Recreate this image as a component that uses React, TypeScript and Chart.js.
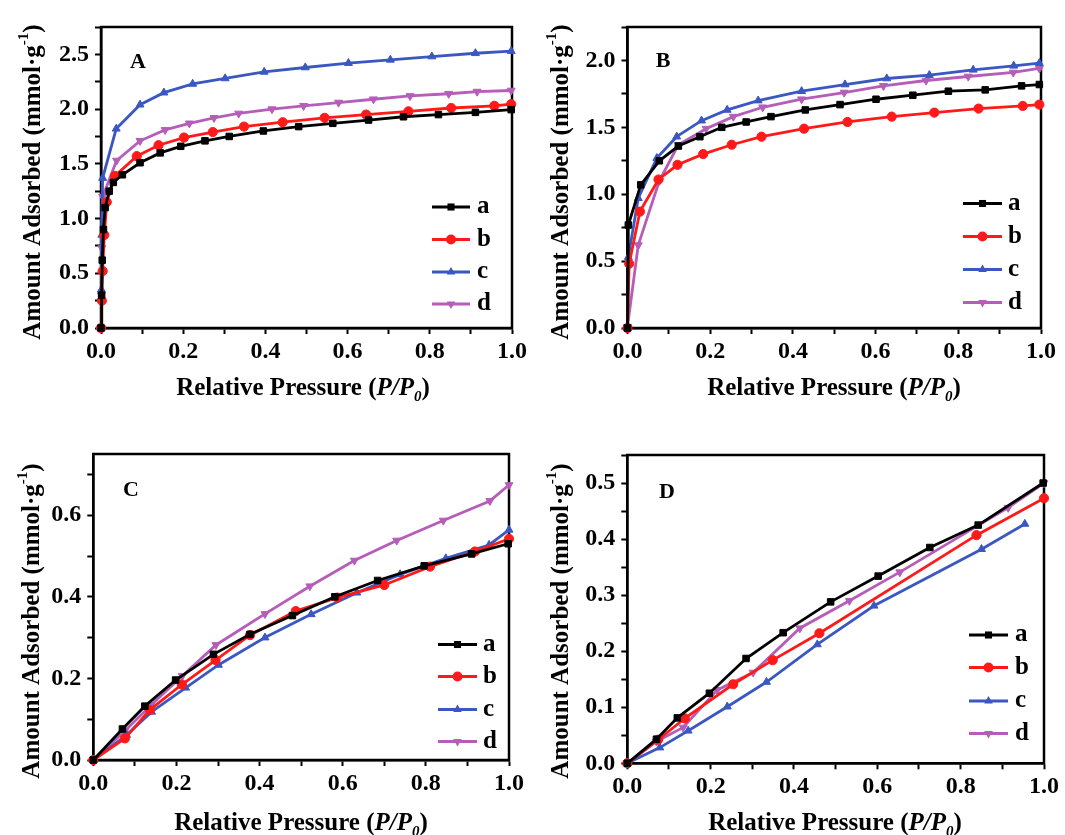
import React, { useEffect, useRef } from 'react';
import { Chart, registerables } from 'chart.js';

Chart.register(...registerables);

type Pt = [number, number];

// ---------- Data (x = P/P0, y = amount adsorbed, mmol/g) ----------
// Panel A
const A_a: Pt[] = [[0, 0], [0.0015, 0.3], [0.003, 0.62], [0.006, 0.9], [0.01, 1.1], [0.02, 1.25], [0.03, 1.33], [0.052, 1.4], [0.095, 1.51], [0.144, 1.6], [0.194, 1.66], [0.253, 1.71], [0.312, 1.75], [0.395, 1.8], [0.481, 1.84], [0.564, 1.87], [0.651, 1.9], [0.736, 1.93], [0.821, 1.95], [0.911, 1.97], [0.998, 1.995]];
const A_b: Pt[] = [[0, 0], [0.002, 0.25], [0.004, 0.52], [0.008, 0.85], [0.014, 1.15], [0.034, 1.39], [0.087, 1.57], [0.14, 1.67], [0.202, 1.74], [0.272, 1.79], [0.348, 1.84], [0.442, 1.88], [0.544, 1.92], [0.645, 1.95], [0.748, 1.98], [0.852, 2.01], [0.957, 2.03], [0.998, 2.045]];
const A_c: Pt[] = [[0, 0], [0.001, 0.35], [0.002, 0.85], [0.004, 1.37], [0.037, 1.82], [0.095, 2.04], [0.153, 2.15], [0.223, 2.23], [0.302, 2.28], [0.397, 2.34], [0.497, 2.38], [0.602, 2.42], [0.704, 2.45], [0.805, 2.48], [0.911, 2.51], [0.998, 2.53]];
const A_d: Pt[] = [[0, 0], [0.001, 0.3], [0.002, 0.73], [0.004, 1.2], [0.038, 1.53], [0.095, 1.71], [0.156, 1.81], [0.215, 1.87], [0.275, 1.92], [0.335, 1.96], [0.416, 2.0], [0.493, 2.03], [0.578, 2.06], [0.663, 2.09], [0.752, 2.12], [0.846, 2.14], [0.915, 2.16], [0.998, 2.17]];

// Panel B
const B_a: Pt[] = [[0, 0], [0.002, 0.77], [0.032, 1.07], [0.077, 1.25], [0.123, 1.36], [0.175, 1.43], [0.228, 1.5], [0.287, 1.54], [0.347, 1.58], [0.43, 1.63], [0.514, 1.67], [0.601, 1.71], [0.69, 1.74], [0.776, 1.77], [0.865, 1.78], [0.953, 1.81], [0.996, 1.82]];
const B_b: Pt[] = [[0, 0], [0.004, 0.48], [0.03, 0.87], [0.075, 1.11], [0.121, 1.22], [0.183, 1.3], [0.252, 1.37], [0.324, 1.43], [0.427, 1.49], [0.532, 1.54], [0.639, 1.58], [0.742, 1.61], [0.849, 1.64], [0.956, 1.66], [0.996, 1.67]];
const B_c: Pt[] = [[0, 0], [0.002, 0.53], [0.026, 0.97], [0.071, 1.27], [0.119, 1.43], [0.179, 1.55], [0.241, 1.63], [0.316, 1.7], [0.421, 1.77], [0.526, 1.82], [0.627, 1.865], [0.73, 1.89], [0.836, 1.93], [0.934, 1.96], [0.996, 1.98]];
const B_d: Pt[] = [[0, 0.01], [0.026, 0.62], [0.077, 1.1], [0.123, 1.37], [0.19, 1.49], [0.256, 1.58], [0.327, 1.65], [0.421, 1.71], [0.524, 1.76], [0.619, 1.81], [0.722, 1.85], [0.824, 1.88], [0.933, 1.91], [0.996, 1.94]];

// Panel C
const C_a: Pt[] = [[0, 0], [0.07, 0.076], [0.124, 0.132], [0.198, 0.196], [0.289, 0.259], [0.377, 0.308], [0.479, 0.354], [0.581, 0.4], [0.684, 0.44], [0.796, 0.476], [0.91, 0.505], [0.998, 0.53]];
const C_b: Pt[] = [[0, 0], [0.076, 0.053], [0.136, 0.123], [0.213, 0.185], [0.294, 0.245], [0.377, 0.306], [0.487, 0.365], [0.587, 0.398], [0.7, 0.429], [0.81, 0.474], [0.918, 0.511], [1.0, 0.542]];
const C_c: Pt[] = [[0, 0], [0.08, 0.061], [0.14, 0.118], [0.222, 0.177], [0.301, 0.233], [0.413, 0.3], [0.524, 0.357], [0.634, 0.41], [0.738, 0.455], [0.848, 0.494], [0.952, 0.527], [1.0, 0.564]];
const C_d: Pt[] = [[0, 0], [0.076, 0.071], [0.139, 0.135], [0.214, 0.206], [0.295, 0.282], [0.413, 0.358], [0.521, 0.426], [0.628, 0.489], [0.73, 0.538], [0.842, 0.587], [0.954, 0.635], [1.0, 0.674]];

// Panel D
const D_a: Pt[] = [[0, 0], [0.07, 0.043], [0.12, 0.081], [0.197, 0.125], [0.285, 0.187], [0.374, 0.233], [0.488, 0.288], [0.602, 0.334], [0.726, 0.385], [0.842, 0.425], [0.998, 0.5]];
const D_b: Pt[] = [[0, 0], [0.074, 0.042], [0.138, 0.08], [0.254, 0.141], [0.349, 0.184], [0.461, 0.232], [0.838, 0.407], [1.0, 0.473]];
const D_c: Pt[] = [[0, 0], [0.078, 0.028], [0.146, 0.058], [0.24, 0.101], [0.334, 0.145], [0.456, 0.212], [0.592, 0.281], [0.85, 0.382], [0.954, 0.427]];
const D_d: Pt[] = [[0, 0], [0.07, 0.039], [0.134, 0.064], [0.216, 0.131], [0.302, 0.162], [0.414, 0.241], [0.533, 0.29], [0.654, 0.341], [0.914, 0.456], [1.0, 0.5]];

const SERIES_LABELS = ['a', 'b', 'c', 'd'];
const SERIES_COLORS = ['#000000', '#ff1a1a', '#3a57c2', '#b65cb9'];
const POINT_STYLES = ['rect', 'circle', 'triangle', 'triangle'];
const POINT_ROTATIONS = [0, 0, 0, 180];

const PANEL_LETTERS = ['A', 'B', 'C', 'D'];
const Y_MAX = [2.75, 2.25, 0.75, 0.55];
const Y_STEP = [0.25, 0.25, 0.1, 0.05];
const Y_LABEL_STEP = [0.5, 0.5, 0.2, 0.1];
const X_STEP = 0.1;
const X_LABEL_STEP = 0.2;

const Y_TITLE_MAIN = 'Amount Adsorbed (mmol·g';
const Y_TITLE_SUP = '-1';
const X_TITLE_MAIN = 'Relative Pressure (';
const X_TITLE_ITALIC = 'P/P';
const X_TITLE_SUB = '0';

const PANEL_DATA: Pt[][][] = [
  [A_a, A_b, A_c, A_d],
  [B_a, B_b, B_c, B_d],
  [C_a, C_b, C_c, C_d],
  [D_a, D_b, D_c, D_d],
];

// ---------- Layout (pixels, styling only) ----------
const FONT = '"Liberation Serif", "Times New Roman", serif';

interface Layout {
  left: number; top: number; w: number; h: number;
  area: { left: number; top: number; right: number; bottom: number };
  letter: [number, number];
  legend: { x1: number; x2: number; tx: number; ys: number[] };
  yTitle: { x: number; cy: number };
  xTitle: { cx: number; y: number };
}

const LAYOUTS: Layout[] = [
  {
    left: 0, top: 0, w: 532, h: 415,
    area: { left: 101, top: 27, right: 512, bottom: 328 },
    letter: [138, 62],
    legend: { x1: 432, x2: 470, tx: 477, ys: [207, 239.5, 272, 304] },
    yTitle: { x: 39.5, cy: 182 },
    xTitle: { cx: 303, y: 395 },
  },
  {
    left: 532, top: 0, w: 533, h: 415,
    area: { left: 95.5, top: 27, right: 509, bottom: 328 },
    letter: [131, 61],
    legend: { x1: 431, x2: 470, tx: 476, ys: [203.5, 236.5, 269.5, 302.5] },
    yTitle: { x: 36, cy: 182 },
    xTitle: { cx: 302, y: 395 },
  },
  {
    left: 0, top: 415, w: 532, h: 420,
    area: { left: 93.3, top: 39, right: 509, bottom: 345 },
    letter: [131, 75],
    legend: { x1: 438, x2: 477, tx: 483, ys: [229.5, 261.5, 294.5, 326.5] },
    yTitle: { x: 39, cy: 206 },
    xTitle: { cx: 301, y: 415 },
  },
  {
    left: 532, top: 415, w: 533, h: 420,
    area: { left: 95.3, top: 40, right: 512, bottom: 348.3 },
    letter: [135, 77],
    legend: { x1: 437, x2: 476, tx: 483, ys: [220, 252.5, 286, 318.5] },
    yTitle: { x: 36, cy: 206 },
    xTitle: { cx: 303, y: 415 },
  },
];

function isMultiple(v: number, step: number) {
  const r = v / step;
  return Math.abs(r - Math.round(r)) < 1e-6;
}

function drawMarker(ctx: CanvasRenderingContext2D, style: string, rot: number, x: number, y: number, r: number, color: string) {
  ctx.save();
  ctx.fillStyle = color;
  ctx.strokeStyle = color;
  ctx.beginPath();
  if (style === 'rect') {
    const s = r * Math.SQRT1_2;
    ctx.rect(x - s, y - s, 2 * s, 2 * s);
  } else if (style === 'circle') {
    ctx.arc(x, y, r, 0, Math.PI * 2);
  } else {
    const dir = rot === 180 ? -1 : 1;
    const side = (3 * r) / Math.sqrt(3);
    const height = (side * Math.sqrt(3)) / 2;
    ctx.moveTo(x, y - dir * (2 * height) / 3);
    ctx.lineTo(x - side / 2, y + dir * height / 3);
    ctx.lineTo(x + side / 2, y + dir * height / 3);
    ctx.closePath();
  }
  ctx.fill();
  ctx.restore();
}

interface Seg { t: string; size: number; italic?: boolean; dy?: number }

function drawRich(ctx: CanvasRenderingContext2D, segs: Seg[], cx: number, baseY: number) {
  const fontOf = (s: Seg) => `${s.italic ? 'italic ' : ''}bold ${s.size}px ${FONT}`;
  let total = 0;
  const widths = segs.map((s) => {
    ctx.font = fontOf(s);
    const w = ctx.measureText(s.t).width;
    total += w;
    return w;
  });
  let x = cx - total / 2;
  ctx.textAlign = 'left';
  ctx.textBaseline = 'alphabetic';
  ctx.fillStyle = '#000';
  segs.forEach((s, i) => {
    ctx.font = fontOf(s);
    ctx.fillText(s.t, x, baseY + (s.dy || 0));
    x += widths[i];
  });
}

function makeDecoPlugin(idx: number) {
  const L = LAYOUTS[idx];
  return {
    id: 'panelDeco' + idx,
    beforeDatasetsDraw(chart: any) {
      const { ctx, chartArea } = chart;
      ctx.save();
      ctx.strokeStyle = '#000';
      ctx.lineWidth = 2.5;
      ctx.strokeRect(chartArea.left, chartArea.top, chartArea.right - chartArea.left, chartArea.bottom - chartArea.top);
      ctx.restore();
    },
    afterDraw(chart: any) {
      const ctx: CanvasRenderingContext2D = chart.ctx;
      ctx.save();
      // panel letter
      ctx.font = `bold 22px ${FONT}`;
      ctx.fillStyle = '#000';
      ctx.textAlign = 'center';
      ctx.textBaseline = 'middle';
      ctx.fillText(PANEL_LETTERS[idx], L.letter[0], L.letter[1]);
      // legend
      SERIES_LABELS.forEach((lab, i) => {
        const y = L.legend.ys[i];
        ctx.strokeStyle = SERIES_COLORS[i];
        ctx.lineWidth = 3;
        ctx.beginPath();
        ctx.moveTo(L.legend.x1, y);
        ctx.lineTo(L.legend.x2, y);
        ctx.stroke();
        drawMarker(ctx, POINT_STYLES[i], POINT_ROTATIONS[i], (L.legend.x1 + L.legend.x2) / 2, y, 5, SERIES_COLORS[i]);
        ctx.font = `bold 25px ${FONT}`;
        ctx.fillStyle = '#000';
        ctx.textAlign = 'left';
        ctx.textBaseline = 'alphabetic';
        ctx.fillText(lab, L.legend.tx, y + 6);
      });
      // x title
      drawRich(ctx, [
        { t: X_TITLE_MAIN, size: 25 },
        { t: X_TITLE_ITALIC, size: 25, italic: true },
        { t: X_TITLE_SUB, size: 15, italic: true, dy: 6 },
        { t: ')', size: 25 },
      ], L.xTitle.cx, L.xTitle.y);
      // y title (rotated)
      ctx.save();
      ctx.translate(L.yTitle.x, L.yTitle.cy);
      ctx.rotate(-Math.PI / 2);
      drawRich(ctx, [
        { t: Y_TITLE_MAIN, size: 25 },
        { t: Y_TITLE_SUP, size: 15, dy: -12 },
        { t: ')', size: 25 },
      ], 0, 0);
      ctx.restore();
      ctx.restore();
    },
  };
}

function Panel({ idx }: { idx: number }) {
  const ref = useRef<HTMLCanvasElement | null>(null);
  const L = LAYOUTS[idx];
  useEffect(() => {
    if (!ref.current) return;
    const tickFont = { family: FONT, size: 24, weight: 'bold' as const };
    const datasets = PANEL_DATA[idx].map((series, i) => ({
      label: SERIES_LABELS[i],
      data: series.map(([x, y]) => ({ x, y })),
      borderColor: SERIES_COLORS[i],
      backgroundColor: SERIES_COLORS[i],
      borderWidth: 2.8,
      pointStyle: POINT_STYLES[i] as any,
      pointRotation: POINT_ROTATIONS[i],
      pointRadius: 4.6,
      pointBorderWidth: 1,
      tension: 0,
      clip: false as any,
    }));
    const chart = new Chart(ref.current, {
      type: 'line',
      data: { datasets },
      options: {
        animation: false,
        responsive: false,
        maintainAspectRatio: false,
        devicePixelRatio: 1,
        layout: { padding: { top: L.area.top, right: L.w - L.area.right, left: 0, bottom: 0 } },
        plugins: { legend: { display: false }, tooltip: { enabled: false } },
        scales: {
          x: {
            type: 'linear',
            min: 0,
            max: 1,
            afterFit: (s: any) => { s.height = L.h - L.area.bottom; },
            ticks: {
              stepSize: X_STEP,
              autoSkip: false,
              maxRotation: 0,
              minRotation: 0,
              includeBounds: false,
              padding: 3,
              color: '#000',
              font: tickFont,
              callback: (v: any) => (isMultiple(Number(v), X_LABEL_STEP) ? Number(v).toFixed(1) : ''),
            },
            grid: { drawOnChartArea: false, drawTicks: true, tickLength: 6, tickWidth: 2, tickColor: '#000' },
            border: { display: true, width: 2.5, color: '#000' },
          },
          y: {
            type: 'linear',
            min: 0,
            max: Y_MAX[idx],
            afterFit: (s: any) => { s.width = L.area.left; },
            ticks: {
              stepSize: Y_STEP[idx],
              autoSkip: false,
              includeBounds: false,
              padding: 6,
              color: '#000',
              font: tickFont,
              callback: (v: any) => (isMultiple(Number(v), Y_LABEL_STEP[idx]) ? Number(v).toFixed(1) : ''),
            },
            grid: { drawOnChartArea: false, drawTicks: true, tickLength: 6, tickWidth: 2, tickColor: '#000' },
            border: { display: true, width: 2.5, color: '#000' },
          },
        },
      },
      plugins: [makeDecoPlugin(idx)],
    });
    return () => chart.destroy();
  }, [idx]);
  return (
    <canvas
      ref={ref}
      width={L.w}
      height={L.h}
      style={{ position: 'absolute', left: L.left, top: L.top, width: L.w, height: L.h }}
    />
  );
}

export default function App() {
  return (
    <div style={{ position: 'absolute', left: 0, top: 0, width: 1065, height: 835, background: '#fff', overflow: 'hidden' }}>
      {[0, 1, 2, 3].map((i) => (
        <Panel key={i} idx={i} />
      ))}
    </div>
  );
}
